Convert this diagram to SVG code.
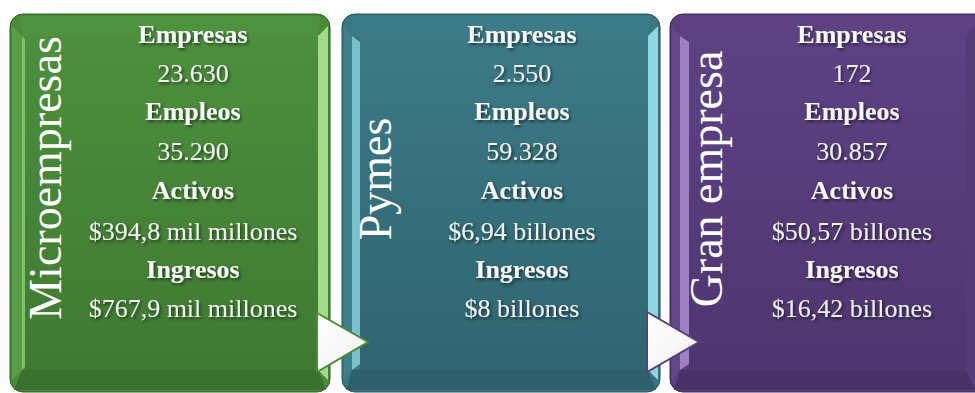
<svg xmlns="http://www.w3.org/2000/svg" width="975" height="393" viewBox="0 0 975 393">
<defs>
<filter id="ts" x="-10%" y="-30%" width="130%" height="180%">
<feDropShadow dx="1.5" dy="2" stdDeviation="1.4" flood-color="#000" flood-opacity="0.55"/>
</filter>
<linearGradient id="gG" x1="0" y1="0" x2="0" y2="1"><stop offset="0" stop-color="#4d8f3d"/><stop offset="1" stop-color="#3f7a32"/></linearGradient>
<linearGradient id="gT" x1="0" y1="0" x2="0" y2="1"><stop offset="0" stop-color="#3c7a86"/><stop offset="1" stop-color="#2f6570"/></linearGradient>
<linearGradient id="gP" x1="0" y1="0" x2="0" y2="1"><stop offset="0" stop-color="#5d4283"/><stop offset="1" stop-color="#4e3670"/></linearGradient>
<linearGradient id="aw" x1="0" y1="0" x2="1" y2="1"><stop offset="0" stop-color="#ffffff"/><stop offset="0.55" stop-color="#f7f7f7"/><stop offset="1" stop-color="#e6e6e6"/></linearGradient>
</defs>
<style>
.lbl{font-family:"Liberation Serif","Times New Roman",serif;font-size:26px;font-weight:bold;fill:#f7f7f7;text-anchor:middle;filter:url(#ts)}
.val{font-family:"Liberation Serif","Times New Roman",serif;font-size:26px;fill:#f2f2f2;text-anchor:middle;filter:url(#ts)}
.ttl{font-family:"Liberation Serif","Times New Roman",serif;font-size:46px;fill:#ffffff;text-anchor:middle}
.arrow{fill:url(#aw);stroke-width:2;stroke-linejoin:miter}
</style>

<g id="node-micro">
<rect x="10" y="14" width="320" height="378" rx="13" fill="#4a8a3b" stroke="#2f5f25" stroke-width="1"/>
<polygon points="12,26 22,36 22,370 12,380" fill="#5a9c48"/>
<polygon points="22,36 25,39 25,367 22,370" fill="#8fcf74" opacity="0.8"/>
<polygon points="318,36 328,26 328,380 318,370" fill="#a3dc89"/>
<polygon points="20,16 320,16 318,36 22,36" fill="#4f9240" opacity="0.9"/>
<polygon points="22,370 318,370 326,390 14,390" fill="#3a7030"/>
<rect x="25" y="36" width="293" height="334" fill="url(#gG)"/>
<text class="ttl" transform="translate(61,178) rotate(-90)">Microempresas</text>
<text class="lbl" x="193" y="43">Empresas</text>
<text class="val" x="193" y="82">23.630</text>
<text class="lbl" x="193" y="120">Empleos</text>
<text class="val" x="193" y="160">35.290</text>
<text class="lbl" x="193" y="199">Activos</text>
<text class="val" x="193" y="240">$394,8 mil millones</text>
<text class="lbl" x="193" y="278">Ingresos</text>
<text class="val" x="193" y="317">$767,9 mil millones</text>
</g>

<g id="node-pymes">
<rect x="342" y="14" width="318" height="378" rx="13" fill="#3a7682" stroke="#24505a" stroke-width="1"/>
<polygon points="344,26 352,36 352,370 344,380" fill="#3f808c"/>
<polygon points="352,36 360,42 360,364 352,370" fill="#86cfd8" opacity="0.85"/>
<polygon points="648,36 658,26 658,380 648,370" fill="#8ed6df"/>
<polygon points="352,16 650,16 648,36 352,36" fill="#3d7c88" opacity="0.9"/>
<polygon points="352,370 648,370 656,390 346,390" fill="#2d606a"/>
<rect x="360" y="36" width="288" height="334" fill="url(#gT)"/>
<text class="ttl" transform="translate(391,179) rotate(-90)">Pymes</text>
<text class="lbl" x="522" y="43">Empresas</text>
<text class="val" x="522" y="82">2.550</text>
<text class="lbl" x="522" y="120">Empleos</text>
<text class="val" x="522" y="160">59.328</text>
<text class="lbl" x="522" y="199">Activos</text>
<text class="val" x="522" y="240">$6,94 billones</text>
<text class="lbl" x="522" y="278">Ingresos</text>
<text class="val" x="522" y="317">$8 billones</text>
</g>

<g id="node-gran">
<rect x="670" y="14" width="320" height="378" rx="13" fill="#5a3e7f" stroke="#3b2656" stroke-width="1"/>
<polygon points="672,26 680,36 680,370 672,380" fill="#634789"/>
<polygon points="680,36 689,42 689,364 680,370" fill="#a98dcb" opacity="0.85"/>
<polygon points="966,36 976,26 976,380 966,370" fill="#543a77"/>
<polygon points="680,16 980,16 966,36 680,36" fill="#5e4284" opacity="0.9"/>
<polygon points="680,370 966,370 976,390 674,390" fill="#4a3268"/>
<rect x="689" y="36" width="277" height="334" fill="url(#gP)"/>
<text class="ttl" transform="translate(722,179) rotate(-90)">Gran empresa</text>
<text class="lbl" x="852" y="43">Empresas</text>
<text class="val" x="852" y="82">172</text>
<text class="lbl" x="852" y="120">Empleos</text>
<text class="val" x="852" y="160">30.857</text>
<text class="lbl" x="852" y="199">Activos</text>
<text class="val" x="852" y="240">$50,57 billones</text>
<text class="lbl" x="852" y="278">Ingresos</text>
<text class="val" x="852" y="317">$16,42 billones</text>
</g>

<g id="connectors">
<polygon class="arrow" points="317,313 368,342 317,372" stroke="#4a8a3a"/>
<polygon class="arrow" points="647,312 699,342 647,372" stroke="#5a3e7f"/>
</g>
</svg>
